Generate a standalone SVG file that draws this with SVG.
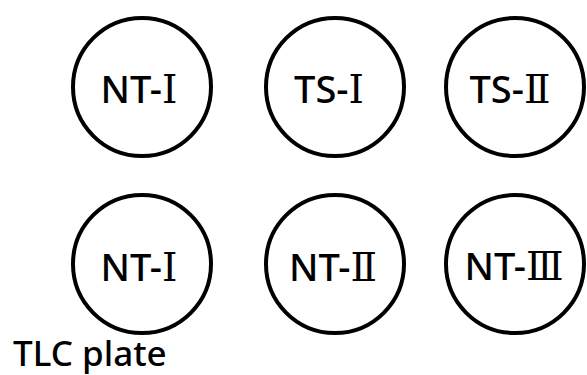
<svg xmlns="http://www.w3.org/2000/svg" width="587" height="375" viewBox="0 0 587 375">
<style>
.c{fill:#fff;stroke:#000;stroke-width:4}
.t{font-family:"Noto Sans","Noto Sans CJK SC",sans-serif;font-size:38px;font-weight:500;fill:#000;text-anchor:middle}
.r{font-family:"DejaVu Serif","Liberation Serif",serif;font-size:39px}
.lbl{font-family:"Noto Sans","Noto Sans CJK SC",sans-serif;font-size:35px;font-weight:500;fill:#000}
</style>
<rect width="587" height="375" fill="#fff"/>
<g id="n1"><circle class="c" cx="142" cy="87" r="69"/><text class="t" x="139" y="103">NT-<tspan class="r">Ⅰ</tspan></text></g>
<g id="n2"><circle class="c" cx="335" cy="87" r="69"/><text class="t" x="329" y="103">TS-<tspan class="r">Ⅰ</tspan></text></g>
<g id="n3"><circle class="c" cx="515" cy="87" r="69"/><text class="t" x="510" y="103">TS-<tspan class="r">Ⅱ</tspan></text></g>
<g id="n4"><circle class="c" cx="142" cy="264" r="69"/><text class="t" x="139" y="281">NT-<tspan class="r">Ⅰ</tspan></text></g>
<g id="n5"><circle class="c" cx="335" cy="264" r="69"/><text class="t" x="333" y="281">NT-<tspan class="r">Ⅱ</tspan></text></g>
<g id="n6"><circle class="c" cx="515" cy="264" r="69"/><text class="t" x="514" y="280">NT-<tspan class="r">Ⅲ</tspan></text></g>
<text class="lbl" x="13" y="366">TLC plate</text>
</svg>
